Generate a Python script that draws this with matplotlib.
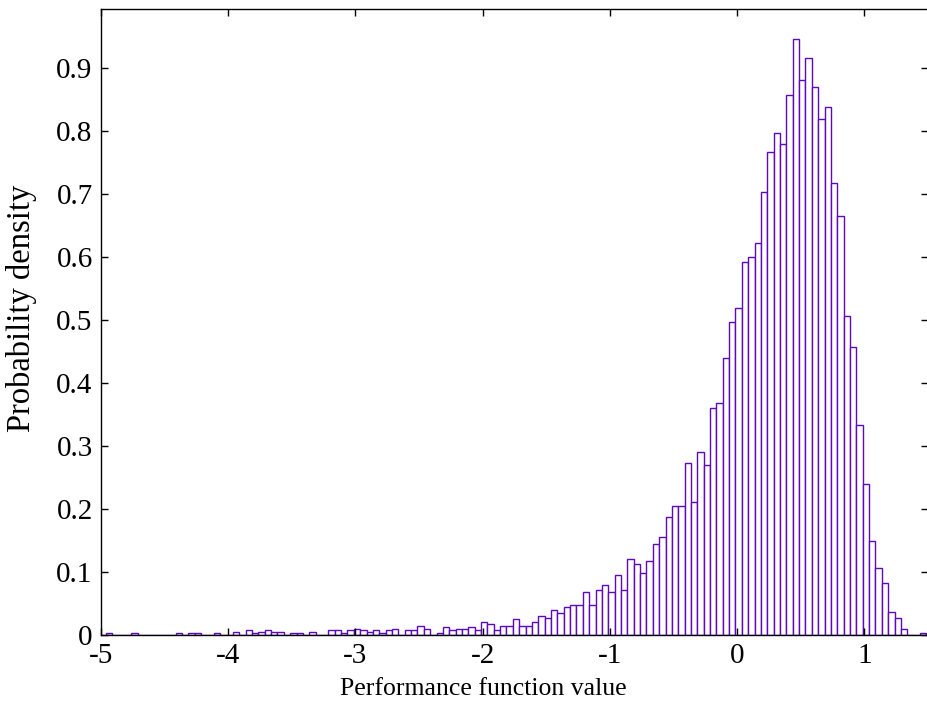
import numpy as np
import matplotlib
matplotlib.use("Agg")
import matplotlib.pyplot as plt
from matplotlib.ticker import FuncFormatter

# ---- data ----
data_min = -4.963
data_max = 1.487
n_bins = 129

# probability density per bin, left tail (bins 1..35)
left_tail = [0.0026, 0, 0, 0, 0.0026, 0, 0, 0, 0, 0, 0, 0.0026, 0, 0.0026, 0.0026,
             0, 0, 0.0026, 0, 0, 0.005, 0, 0.008, 0.0026, 0.005, 0.008, 0.005, 0.005,
             0, 0.0026, 0.0026, 0, 0.005, 0, 0]
# bins 36..68
mid_tail = [0.0074, 0.0074, 0.0026, 0.0074, 0.010, 0.0074, 0.005, 0.0074, 0.0026,
            0.0074, 0.010, 0, 0.0074, 0.0074, 0.015, 0.010, 0, 0.0026, 0.013, 0.0074,
            0.010, 0.010, 0.013, 0.0074, 0.021, 0.018, 0.0074, 0.015, 0.015, 0.026,
            0.015, 0.015, 0.021]
# bins 69..100
rise = [0.030, 0.027, 0.039, 0.035, 0.044, 0.047, 0.047, 0.069, 0.047, 0.071, 0.079,
        0.068, 0.096, 0.071, 0.120, 0.112, 0.098, 0.117, 0.145, 0.156, 0.188, 0.205,
        0.205, 0.273, 0.211, 0.290, 0.270, 0.360, 0.369, 0.440, 0.497, 0.519]
# bins 101..129
peak = [0.592, 0.600, 0.622, 0.704, 0.767, 0.797, 0.780, 0.857, 0.947, 0.881, 0.916,
        0.870, 0.819, 0.838, 0.717, 0.666, 0.507, 0.458, 0.333, 0.240, 0.150, 0.107,
        0.082, 0.036, 0.027, 0.010, 0, 0, 0.0026]

x_ticks = [-5, -4, -3, -2, -1, 0, 1]
y_ticks = [0, 0.1, 0.2, 0.3, 0.4, 0.5, 0.6, 0.7, 0.8, 0.9]
x_label = "Performance function value"
y_label = "Probability density"

density = np.array(left_tail + mid_tail + rise + peak)
edges = np.linspace(data_min, data_max, n_bins + 1)

# ---- style ----
plt.rcParams["font.family"] = ["Liberation Serif", "DejaVu Serif"]
plt.rcParams["axes.unicode_minus"] = False

W, H = 928, 704
fig = plt.figure(figsize=(W / 100, H / 100), dpi=100)
left_px, right_px, top_px, bottom_px = 101, 928, 9, 635
ax = fig.add_axes([left_px / W, 1 - bottom_px / H,
                   (right_px - left_px) / W, (bottom_px - top_px) / H])

ax.bar(edges[:-1], density, width=np.diff(edges), align="edge",
       facecolor="white", edgecolor="#5E08BE", linewidth=1.0)

ax.set_xlim(-5, 1.5)
ax.set_ylim(0, 0.994)
ax.set_xticks(x_ticks)
ax.set_yticks(y_ticks)
ax.xaxis.set_major_formatter(FuncFormatter(lambda v, p: "%g" % v))
ax.yaxis.set_major_formatter(FuncFormatter(lambda v, p: "%g" % v))
ax.tick_params(direction="in", length=5, width=1, top=True, right=True,
               labelsize=21, pad=6, colors="black")
for s in ax.spines.values():
    s.set_linewidth(1.0)
ax.spines["right"].set_visible(False)

ax.set_xlabel(x_label, fontsize=18.5)
ax.set_ylabel(y_label, fontsize=23.5)
ax.xaxis.set_label_coords(0.462, -0.069)
ax.yaxis.set_label_coords(-0.077, 0.522)

fig.savefig("out.png", dpi=100)
